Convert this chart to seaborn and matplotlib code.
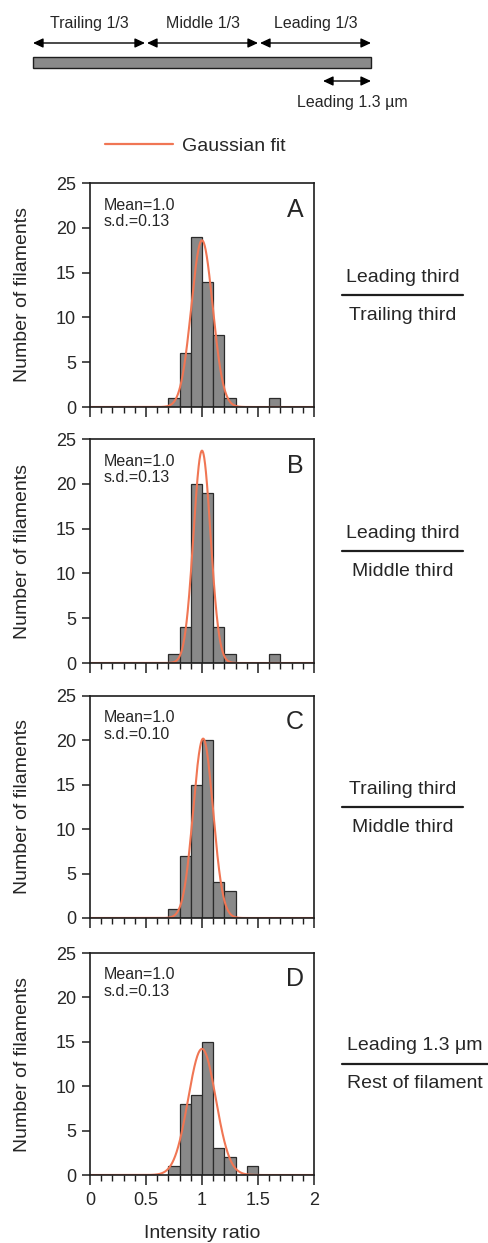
import numpy as np
import pandas as pd
import matplotlib
matplotlib.use('Agg')
import matplotlib.pyplot as plt
import seaborn as sns
from matplotlib.patches import Rectangle
from matplotlib.lines import Line2D
from matplotlib.ticker import MultipleLocator

# ---------------- data ----------------
bin_left = [0.7, 0.8, 0.9, 1.0, 1.1, 1.2, 1.3, 1.4, 1.5, 1.6]
bin_width = 0.1
counts_A = [1, 6, 19, 14, 8, 1, 0, 0, 0, 1]
counts_B = [1, 4, 20, 19, 4, 1, 0, 0, 0, 1]
counts_C = [1, 7, 15, 20, 4, 3, 0, 0, 0, 0]
counts_D = [1, 8, 9, 15, 3, 2, 0, 1, 0, 0]
panel_letters = ['A', 'B', 'C', 'D']
mean_labels = ['Mean=1.0', 'Mean=1.0', 'Mean=1.0', 'Mean=1.0']
sd_labels = ['s.d.=0.13', 's.d.=0.13', 's.d.=0.10', 's.d.=0.13']
numerators = ['Leading third', 'Leading third', 'Trailing third', 'Leading 1.3 \u03bcm']
denominators = ['Trailing third', 'Middle third', 'Middle third', 'Rest of filament']
fit_amp = [18.6, 23.7, 20.2, 14.2]
fit_mu = [1.0, 1.0, 1.01, 1.0]
fit_sd = [0.095, 0.076, 0.088, 0.123]
x_ticks = [0, 0.5, 1, 1.5, 2]
x_tick_labels = ['0', '0.5', '1', '1.5', '2']
y_ticks = [0, 5, 10, 15, 20, 25]
segment_labels = ['Trailing 1/3', 'Middle 1/3', 'Leading 1/3']
leading_label = 'Leading 1.3 \u00b5m'
legend_label = 'Gaussian fit'
x_label = 'Intensity ratio'
y_label = 'Number of filaments'

all_counts = [counts_A, counts_B, counts_C, counts_D]

# ---------------- style ----------------
sns.set_style('ticks')
plt.rcParams['font.family'] = ['Liberation Sans', 'DejaVu Sans']
plt.rcParams['axes.edgecolor'] = '#1e1e1e'
plt.rcParams['axes.linewidth'] = 1.2

W, H = 489, 1243
fig = plt.figure(figsize=(W / 100, H / 100), dpi=100)
fig.patch.set_facecolor('white')

BAR = '#898989'
EDGE = '#2b2b2b'
FIT = '#f07654'

# panel pixel boxes (top, bottom)
boxes = [(183, 407), (439, 663), (696, 918), (953, 1175)]
left_px, right_px = 90, 314

# overlay for diagram & side labels
ov = fig.add_axes([0, 0, 1, 1])
ov.set_xlim(0, W)
ov.set_ylim(H, 0)
ov.axis('off')
ov.patch.set_visible(False)

edges = bin_left + [round(bin_left[-1] + bin_width, 2)]
centers = [b + bin_width / 2 for b in bin_left]
xgrid = np.linspace(0, 2, 801)

for i, (top, bot) in enumerate(boxes):
    ax = fig.add_axes([left_px / W, 1 - bot / H, (right_px - left_px) / W, (bot - top) / H])
    df = pd.DataFrame({'ratio': centers, 'n': all_counts[i]})
    sns.histplot(data=df, x='ratio', weights='n', bins=edges, ax=ax,
                 color=BAR, edgecolor=EDGE, linewidth=0.9, alpha=1)
    fit = pd.DataFrame({'x': xgrid,
                        'y': fit_amp[i] * np.exp(-0.5 * ((xgrid - fit_mu[i]) / fit_sd[i]) ** 2)})
    sns.lineplot(data=fit, x='x', y='y', ax=ax, color=FIT, lw=1.5)
    ax.set_xlim(0, 2)
    ax.set_ylim(0, 25)
    ax.set_xticks(x_ticks)
    ax.xaxis.set_minor_locator(MultipleLocator(0.1))
    ax.set_yticks(y_ticks)
    ax.tick_params(axis='y', which='major', direction='out', length=6, width=1.1,
                   labelsize=13, pad=4, color='#1e1e1e')
    ax.tick_params(axis='x', which='major', direction='out', length=7, width=1.1,
                   labelsize=13, pad=5, color='#1e1e1e')
    ax.tick_params(axis='x', which='minor', direction='out', length=4, width=1.0,
                   color='#1e1e1e')
    for s in ax.spines.values():
        s.set_visible(True)
    if i == 3:
        ax.set_xticklabels(x_tick_labels)
        ax.set_xlabel(x_label, fontsize=14, labelpad=12)
    else:
        ax.set_xticklabels([])
        ax.set_xlabel('')
    ax.set_ylabel(y_label, fontsize=14, labelpad=18)
    ax.text(0.06, 0.935, mean_labels[i] + '\n' + sd_labels[i], transform=ax.transAxes,
            fontsize=11.5, va='top', ha='left', linespacing=1.1)
    ax.text(0.955, 0.935, panel_letters[i], transform=ax.transAxes,
            fontsize=18, va='top', ha='right')

    # side fraction label
    cy = (top + bot) / 2
    x0, x1 = (342, 463) if i < 3 else (342, 488)
    xc = (x0 + x1) / 2
    ov.plot([x0, x1], [cy, cy], color='#1e1e1e', lw=1.6)
    ov.text(xc, cy - 18, numerators[i], fontsize=14, ha='center', va='center')
    ov.text(xc, cy + 20, denominators[i], fontsize=14, ha='center', va='center')

# ---------------- top diagram ----------------
ov.add_patch(Rectangle((33, 57), 338, 11, facecolor='#8a8a8a', edgecolor='#1e1e1e', lw=1.0))
seg = [(33, 145), (147, 258), (260, 371)]
astyle = dict(arrowstyle='<|-|>,head_length=0.6,head_width=0.28', color='black', lw=1.0,
              shrinkA=0, shrinkB=0)
for (a, b), lab in zip(seg, segment_labels):
    ov.annotate('', xy=(b, 43), xytext=(a, 43), arrowprops=astyle)
    ov.text((a + b) / 2, 23, lab, fontsize=11.5, ha='center', va='center')
ov.annotate('', xy=(371, 81), xytext=(323, 81), arrowprops=astyle)
ov.text(352, 102, leading_label, fontsize=11.5, ha='center', va='center')

fig.legend(handles=[Line2D([], [], color=FIT, lw=1.6)], labels=[legend_label],
           loc='center left', bbox_to_anchor=(105 / W, 1 - 146 / H), frameon=False,
           fontsize=14, handlelength=3.5, handletextpad=0.45, borderpad=0, borderaxespad=0)

fig.savefig('out.png', dpi=100, facecolor='white')
